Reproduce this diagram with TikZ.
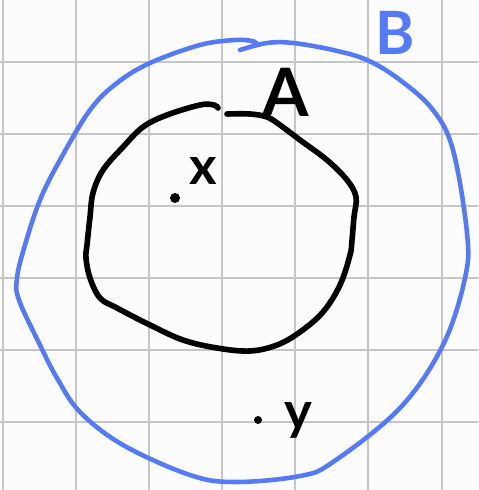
\documentclass[tikz,border=0pt]{standalone}
\usepackage{fontspec}
\setsansfont{Lato}
\definecolor{setblue}{RGB}{84,122,248}
\definecolor{paper}{RGB}{252,252,252}

\begin{document}
\begin{tikzpicture}[x=0.02cm, y=-0.02cm, line cap=round, line join=round]
  % Papel
  \fill[paper] (0,0) rectangle (478,490);
  \useasboundingbox (0,0) rectangle (478,490);
  % Cuadrícula
  \foreach \gx in {3,76,149,222,295,368,442}
    \draw[gray!45, line width=1.1pt] (\gx,0) -- (\gx,490);
  \foreach \gy in {62,134,206,278,350,422}
    \draw[gray!45, line width=1.1pt] (0,\gy) -- (478,\gy);
  % Conjunto B
  \draw[setblue, line width=2.6pt] plot[smooth, tension=0.6] coordinates {
    (257,44) (252,41) (235,40) (200,45) (150,63) (117,83) (90,110) (60,160)
    (40,200) (25,245) (17,278) (19,300) (40,345) (57,378) (80,412) (123,445)
    (190,475) (235,482) (300,476) (333,462) (400,408) (443,345) (465,278)
    (467,233) (453,150) (433,110) (400,80) (367,60) (333,50) (293,43)
    (267,43) (240,50)};
  % Conjunto A
  \draw[black, line width=3.2pt] plot[smooth, tension=0.6] coordinates {
    (218,108) (214,105) (200,105) (167,115) (143,127) (123,147) (103,170)
    (93,193) (90,217) (87,245) (86,258) (90,278) (100,298) (117,308)
    (150,325) (183,340) (217,348) (250,351) (277,345) (300,332) (323,312)
    (340,285) (350,255) (352,240) (354,217) (356,197) (347,180) (327,160)
    (300,140) (280,125) (267,117) (250,114) (227,114)};
  % Puntos
  \fill (175,198) circle (5);
  \fill (258,420) circle (4);
  % Etiquetas
  \node[setblue, font=\sffamily\bfseries\fontsize{34}{34}\selectfont] (labB) at (395,33) {B};
  \node[font=\sffamily\bfseries\fontsize{38}{38}\selectfont] (labA) at (286,92) {A};
  \node[font=\sffamily\bfseries\fontsize{30}{30}\selectfont] (labx) at (203,171) {x};
  \node[font=\sffamily\bfseries\fontsize{30}{30}\selectfont] (laby) at (298,420) {y};
\end{tikzpicture}
\end{document}
